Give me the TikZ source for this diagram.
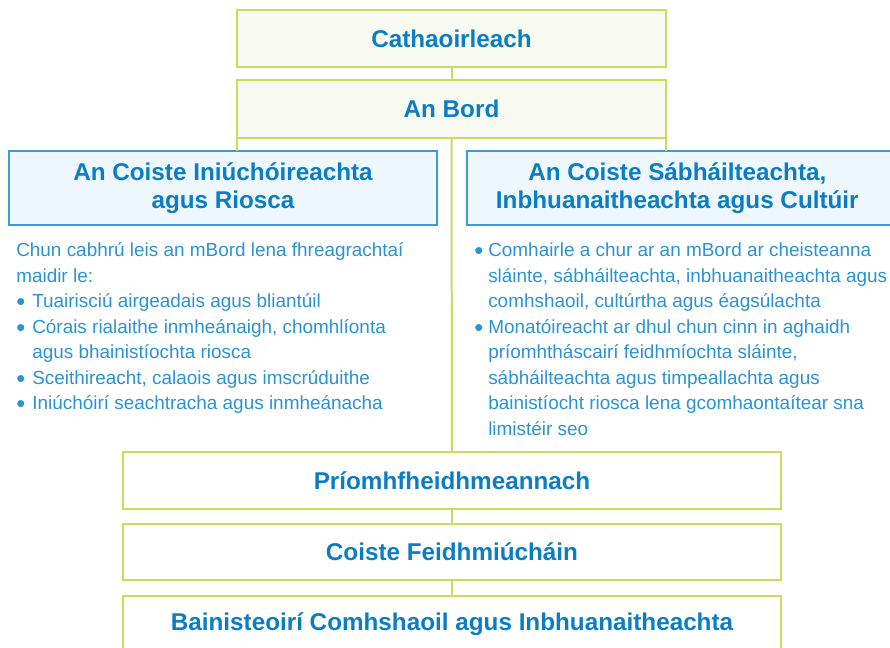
\documentclass[tikz,border=0pt]{standalone}
\usepackage{fontspec}
\setmainfont{Liberation Sans}
\definecolor{lgreen}{HTML}{C6DD5E}
\definecolor{cream}{HTML}{F8F9F1}
\definecolor{lblue}{HTML}{EEF7FE}
\definecolor{bblue}{HTML}{3A9BDA}
\definecolor{ttext}{HTML}{0B7DC3}
\definecolor{btext}{HTML}{2B93D4}
\tikzset{
  greenbox/.style={draw=lgreen, line width=1.5pt, fill=cream, inner sep=0pt, outer sep=0pt,
    text=ttext, font=\fontsize{18.2}{21}\selectfont\bfseries, align=center},
  whitebox/.style={greenbox, fill=white},
  bluebox/.style={draw=bblue, line width=1.5pt, fill=lblue, inner sep=0pt, outer sep=0pt,
    text=ttext, font=\fontsize{18.2}{21}\selectfont\bfseries, align=center},
  conn/.style={draw=lgreen, line width=1.5pt},
  bodytext/.style={anchor=base west, inner sep=0pt, text=btext, font=\fontsize{14.2}{19}\selectfont}
}
\newcommand{\bdot}{\raisebox{-1.9pt}{\scalebox{1.35}{\textbullet}}}
\newcommand{\bul}{\makebox[12pt][l]{\bdot}}
\newcommand{\rbul}{\makebox[10.5pt][l]{\bdot}}
\newcommand{\ind}{\hspace*{12pt}}
\begin{document}
\begin{tikzpicture}[x=0.75pt, y=-0.75pt]
\path[use as bounding box, clip] (0,0) rectangle (890,648);
\fill[white] (0,0) rectangle (890,648);

% nodes
\node[greenbox, minimum width=321.75pt, minimum height=42.75pt] (chair) at (451.5,38.5) {Cathaoirleach};
\node[greenbox, minimum width=321.75pt, minimum height=43.5pt] (board) at (451.5,109) {An Bord};
\node[bluebox, minimum width=321pt, minimum height=55.5pt] (audit) at (223,188) {An Coiste Iniúchóireachta\\agus Riosca};
\node[bluebox, minimum width=319.5pt, minimum height=55.5pt] (safety) at (680,188) {\hspace*{-4pt}An Coiste Sábháilteachta,\\\hspace*{-4pt}Inbhuanaitheachta agus Cultúir};
\node[whitebox, minimum width=493.5pt, minimum height=42.75pt] (ceo) at (452,480.5) {Príomhfheidhmeannach};
\node[whitebox, minimum width=493.5pt, minimum height=42pt] (exec) at (452,552) {Coiste Feidhmiúcháin};
\node[whitebox, minimum width=493.5pt, minimum height=42pt] (mgrs) at (452,624) {Bainisteoirí Comhshaoil agus Inbhuanaitheachta};

% connectors
\draw[conn] (chair.south) -- (board.north);
\draw[conn] (board.south) -- (ceo.north);
\draw[conn] (board.south west) -- (audit.north -| board.south west);
\draw[conn] (board.south east) -- (safety.north -| board.south east);
\draw[conn] (ceo.south) -- (exec.north);
\draw[conn] (exec.south) -- (mgrs.north);

% left text
\node[bodytext] (l1) at (16,257) {Chun cabhrú leis an mBord lena fhreagrachtaí};
\node[bodytext] (l2) at (16,282.5) {maidir le:};
\node[bodytext] (l3) at (16,308) {\bul Tuairisciú airgeadais agus bliantúil};
\node[bodytext] (l4) at (16,333.5) {\bul Córais rialaithe inmheánaigh, chomhlíonta};
\node[bodytext] (l5) at (16,359) {\ind agus bhainistíochta riosca};
\node[bodytext] (l6) at (16,384.5) {\bul Sceithireacht, calaois agus imscrúduithe};
\node[bodytext] (l7) at (16,410) {\bul Iniúchóirí seachtracha agus inmheánacha};

% right text
\node[bodytext] (r1) at (474,257) {\rbul Comhairle a chur ar an mBord ar cheisteanna};
\node[bodytext] (r2) at (488,282.5) {sláinte, sábháilteachta, inbhuanaitheachta agus};
\node[bodytext] (r3) at (488,308) {comhshaoil, cultúrtha agus éagsúlachta};
\node[bodytext] (r4) at (474,333.5) {\rbul Monatóireacht ar dhul chun cinn in aghaidh};
\node[bodytext] (r5) at (488,359) {príomhtháscairí feidhmíochta sláinte,};
\node[bodytext] (r6) at (488,384.5) {sábháilteachta agus timpeallachta agus};
\node[bodytext] (r7) at (488,410) {bainistíocht riosca lena gcomhaontaítear sna};
\node[bodytext] (r8) at (488,435.5) {limistéir seo};
\end{tikzpicture}
\end{document}
